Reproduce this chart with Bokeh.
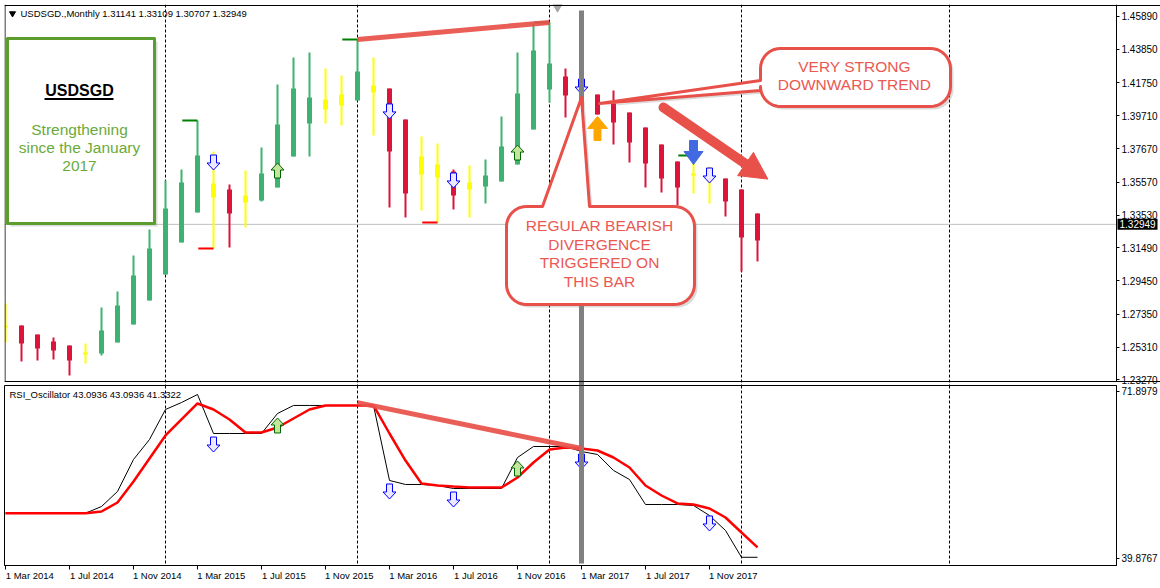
import math
from bokeh.plotting import figure
from bokeh.models import Range1d, FixedTicker, PrintfTickFormatter, Label
from bokeh.layouts import column
from bokeh.embed import file_html
from bokeh.resources import INLINE
from bokeh.core.properties import value

# ---------------- data (monthly bars, Mar 2014 .. Feb 2018) ----------------
kinds = ["N","D","D","D","D","N","U","U","U","U","U","U","U","N","D","N","U","U","U","U",
         "N","N","U","N","D","D","N","N","D","N","U","U","U","U","U","D","D","D","D","D",
         "D","D","D","N","N","D","D","D"]
opens = [1.2665,1.2665,1.2609,1.2566,1.2541,1.2497,1.2491,1.2559,1.2671,1.2821,1.2983,1.3182,
         1.3369,1.3549,1.3512,1.3475,1.3443,1.3524,1.3717,1.3923,1.4072,1.4103,1.4066,1.4159,
         1.4141,1.3948,1.3717,1.3668,1.3624,1.3556,1.3531,1.3562,1.3668,1.3885,1.4134,1.4215,
         1.4159,1.4103,1.4047,1.3991,1.3898,1.3792,1.3686,1.3612,1.3593,1.3580,1.3512,1.3363]
highs = [1.2802,1.2665,1.2609,1.2590,1.2541,1.2553,1.2777,1.2877,1.3101,1.3263,1.3568,1.3636,
         1.3941,1.3749,1.3543,1.3630,1.3773,1.4166,1.4334,1.4365,1.4265,1.4222,1.4446,1.4334,
         1.4141,1.3948,1.3842,1.3798,1.3636,1.3661,1.3699,1.3966,1.4365,1.4545,1.4552,1.4265,
         1.4190,1.4103,1.4128,1.3991,1.3898,1.3792,1.3686,1.3724,1.3655,1.3580,1.3512,1.3363]
lows = [1.2559,1.2441,1.2447,1.2454,1.2354,1.2429,1.2478,1.2559,1.2671,1.2821,1.2983,1.3182,
        1.3369,1.3145,1.3151,1.3275,1.3437,1.3524,1.3717,1.3717,1.3923,1.3910,1.4066,1.3848,
        1.3400,1.3338,1.3381,1.3307,1.3388,1.3338,1.3425,1.3562,1.3668,1.3885,1.4054,1.3960,
        1.4035,1.3979,1.3792,1.3680,1.3524,1.3493,1.3413,1.3487,1.3425,1.3344,1.3001,1.3064]
closes = [1.2653,1.2553,1.2522,1.2509,1.2447,1.2484,1.2634,1.2790,1.2976,1.3145,1.3394,1.3556,
          1.3724,1.3462,1.3363,1.3431,1.3612,1.3917,1.4141,1.4085,1.4010,1.4035,1.4247,1.4116,
          1.3749,1.3487,1.3605,1.3587,1.3475,1.3512,1.3599,1.3780,1.4110,1.4377,1.4296,1.4097,
          1.4085,1.3979,1.3929,1.3805,1.3674,1.3580,1.3524,1.3599,1.3568,1.3437,1.3213,1.3194]

rsi_fast = [49.13,49.13,49.13,49.13,49.13,49.13,50.31,52.97,58.63,62.17,67.48,68.71,70.13,
            63.23,63.23,63.23,63.23,66.77,68.19,68.19,68.19,68.19,68.19,68.19,54.92,54.21,
            54.21,54.03,53.50,53.50,53.50,53.50,58.98,60.93,60.93,60.93,60.04,59.52,56.69,
            55.09,50.67,50.67,50.67,50.49,48.72,46.07,41.33,41.33]
rsi_slow = [49.13,49.13,49.13,49.13,49.13,49.13,49.43,51.02,54.74,58.81,62.88,65.71,68.54,
            67.48,65.71,63.41,63.41,64.29,65.88,67.48,68.19,68.19,68.19,68.19,63.23,58.45,
            54.39,54.03,53.85,53.68,53.68,53.68,55.45,58.10,60.40,60.75,60.57,60.22,58.98,
            57.22,54.03,52.26,50.85,50.67,49.96,48.37,45.72,43.09]

sell_months = [13, 24, 28, 36, 44]
sell_price = [1.3680, 1.3998, 1.3568, 1.4153, 1.3599]
sell_rsi = [61.28, 52.97, 51.55, 58.27, 47.31]
buy_months = [17, 32]
buy_price = [1.3630, 1.3742]
buy_rsi = [64.65, 57.04]
high_marker_months = [12, 22, 34, 43]
low_marker_months = [13, 27]
separator_months = [10, 22, 34, 46, 59]
signal_bar_month = 36
orange_up = (37, 1.3892)
blue_down = (43, 1.3742)
current_price = 1.32949

price_ticks = [1.23270, 1.25310, 1.27350, 1.29450, 1.31490, 1.33530, 1.35570, 1.37670,
               1.39710, 1.41750, 1.43850, 1.45890]
x_tick_labels = ["1 Mar 2014", "1 Jul 2014", "1 Nov 2014", "1 Mar 2015", "1 Jul 2015",
                 "1 Nov 2015", "1 Mar 2016", "1 Jul 2016", "1 Nov 2016", "1 Mar 2017",
                 "1 Jul 2017", "1 Nov 2017"]
rsi_min, rsi_max = 39.8767, 71.8979
rsi_tick_labels = ["71.8979", "39.8767"]

# ---------------- layout constants (reference pixel grid) ----------------
MONTH_PX = 16.0
FRAME_L, FRAME_R, PAGE_R = 4, 1116, 1160
TOP_T, TOP_B = 4, 381
RSI_T, RSI_B = 385, 565
RSI_H = RSI_B - RSI_T
PRICE_PER_PX = 0.0006226
RSI_PER_PX = (rsi_max - rsi_min) / 181.0
FONT = "Liberation Sans"
RED = "#e8504a"

def mx(px):   # reference pixel x -> month index
    return (px - 5) / MONTH_PX

def pp(py):   # reference pixel y -> price
    return 1.46886 - py * PRICE_PER_PX

def rp(py):   # reference pixel y -> rsi value
    return rsi_max - (py - 384) * RSI_PER_PX

KIND_COLOR = {"U": "#3cb371", "D": "#dc143c", "N": "#ffff00"}

def arrow(cx, cy, up, yper, w_head, w_shaft, h_tot, h_head):
    ht = h_tot / 2.0
    pts = [(-w_shaft/2, -ht), (w_shaft/2, -ht), (w_shaft/2, ht-h_head), (w_head/2, ht-h_head),
           (0, ht), (-w_head/2, ht-h_head), (-w_shaft/2, ht-h_head)]
    s = -1 if up else 1
    xs = [cx + dx / MONTH_PX for dx, dy in pts]
    ys = [cy - s * dy * yper for dx, dy in pts]
    return xs, ys

def rounded(l, t, r, b, rad, pointer=None, side=None, n=10):
    pts = []
    def arc(cx, cy, a0, a1):
        for k in range(n + 1):
            a = math.radians(a0 + (a1 - a0) * k / n)
            pts.append((cx + rad * math.cos(a), cy + rad * math.sin(a)))
    arc(l + rad, t + rad, 180, 270)
    if side == "top":
        pts.extend(pointer)
    arc(r - rad, t + rad, 270, 360)
    arc(r - rad, b - rad, 0, 90)
    arc(l + rad, b - rad, 90, 180)
    if side == "left":
        pts.extend(pointer)
    return [mx(p[0]) for p in pts], [pp(p[1]) for p in pts]

def style_axis(ax, size):
    ax.major_label_text_font = FONT
    ax.major_label_text_font_size = size
    ax.major_label_text_color = "black"
    ax.major_tick_out = 3
    ax.major_tick_in = 0
    ax.minor_tick_out = 0
    ax.minor_tick_in = 0
    ax.major_label_standoff = 2
    ax.axis_line_color = "black"

# ---------------- price panel (frame reaches the page edge; scale drawn at x=1116) ----------------
top = figure(frame_width=PAGE_R - FRAME_L, frame_height=RSI_T - TOP_T,
             x_range=Range1d(mx(FRAME_L), mx(PAGE_R)),
             y_range=Range1d(pp(RSI_T), pp(TOP_T)), output_backend="svg", toolbar_location=None,
             x_axis_location=None, y_axis_location="right", min_border_left=FRAME_L,
             min_border_top=TOP_T, min_border_bottom=0, min_border_right=0,
             outline_line_color=None, background_fill_color="white",
             border_fill_color="white")
top.xgrid.visible = False
top.ygrid.visible = False
XR = mx(FRAME_R)

top.vspan(x=separator_months, line_color="black", line_width=1, line_dash="3 2")
top.segment(x0=[mx(FRAME_L)], x1=[XR], y0=[current_price], y1=[current_price],
            line_color="#c0c0c0", line_width=1)

months = list(range(len(opens)))
colors = [KIND_COLOR[k] for k in kinds]
btop = [max(o, c) for o, c in zip(opens, closes)]
bbot = [min(o, c) for o, c in zip(opens, closes)]
top.segment(x0=months, y0=lows, x1=months, y1=highs, line_color=colors, line_width=2)
top.vbar(x=months, top=btop, bottom=bbot, width=5 / MONTH_PX, fill_color=colors, line_color=None)

top.segment(x0=[m - 0.95 for m in high_marker_months], x1=high_marker_months,
            y0=[highs[m] for m in high_marker_months], y1=[highs[m] for m in high_marker_months],
            line_color="#008000", line_width=2)
top.segment(x0=[m - 0.95 for m in low_marker_months], x1=low_marker_months,
            y0=[lows[m] for m in low_marker_months], y1=[lows[m] for m in low_marker_months],
            line_color="#ff0000", line_width=2)

def hollow_arrows(fig, ms, ys, up, yper, line, fill):
    xx, yy = [], []
    for m, y in zip(ms, ys):
        a, b = arrow(m, y, up, yper, 13, 6, 15, 7)
        xx.append(a); yy.append(b)
    fig.patches(xs=xx, ys=yy, fill_color=fill, line_color=line, line_width=1)

hollow_arrows(top, sell_months, sell_price, False, PRICE_PER_PX, "#0000ff", "#ece8ff")
hollow_arrows(top, buy_months, buy_price, True, PRICE_PER_PX, "#006400", "#c4e69a")

top.segment(x0=[signal_bar_month], x1=[signal_bar_month], y0=[pp(10)], y1=[pp(RSI_T)],
            line_color="#808080", line_width=5)

top.segment(x0=[22], y0=[highs[22]], x1=[34], y1=[highs[34]], line_color=RED,
            line_width=5, line_alpha=0.92)

# solid signal arrows
xa, ya = arrow(orange_up[0], orange_up[1], True, PRICE_PER_PX, 20, 7, 24, 12)
top.patch(xa, ya, fill_color="#ffa500", line_color="#ffa500")
xa, ya = arrow(blue_down[0], blue_down[1], False, PRICE_PER_PX, 19, 8, 24, 13)
top.patch(xa, ya, fill_color="#4169e1", line_color="#4169e1")

# green info box
gx, gy = rounded(7, 38, 154, 223, 0.01)
top.patch([x + 3 / MONTH_PX for x in gx], [y - 3 * PRICE_PER_PX for y in gy],
          fill_color="#888888", fill_alpha=0.3, line_color=None)
top.patch(gx, gy, fill_color="white", line_color="#5c9e2e", line_width=3, line_join="miter")
top.add_layout(Label(x=mx(79), y=pp(90), text="USDSGD", text_font=FONT, text_font_size="16px",
                     text_font_style="bold", text_color="black", text_align="center",
                     text_baseline="middle"))
top.segment(x0=[mx(44)], x1=[mx(113)], y0=[pp(98.5)], y1=[pp(98.5)], line_color="black", line_width=2)
for txt, yy in [("Strengthening", 129), ("since the January", 147), ("2017", 165)]:
    top.add_layout(Label(x=mx(79), y=pp(yy), text=txt, text_font=FONT, text_font_size="15.5px",
                         text_color="#6aaa3c", text_align="center", text_baseline="middle"))

# callout 1
cx1, cy1 = rounded(506, 206, 694, 304, 20, [(542, 206), (581, 97), (589, 206)], "top")
top.patch([x + 3 / MONTH_PX for x in cx1], [y - 3 * PRICE_PER_PX for y in cy1],
          fill_color="#888888", fill_alpha=0.3, line_color=None)
top.patch(cx1, cy1, fill_color="white", line_color=RED, line_width=3, line_join="round")
for txt, yy in [("REGULAR BEARISH", 225), ("DIVERGENCE", 243.5), ("TRIGGERED ON", 262),
                ("THIS BAR", 280.5)]:
    top.add_layout(Label(x=mx(599), y=pp(yy), text=txt, text_font=FONT, text_font_size="15.5px",
                         text_color="#ea5852", text_align="center", text_baseline="middle"))

# callout 2
cx2, cy2 = rounded(760, 48, 950, 106, 20, [(760, 90), (599, 103), (760, 80)], "left")
top.patch([x + 3 / MONTH_PX for x in cx2], [y - 3 * PRICE_PER_PX for y in cy2],
          fill_color="#888888", fill_alpha=0.3, line_color=None)
top.patch(cx2, cy2, fill_color="white", line_color=RED, line_width=3, line_join="round")
for txt, yy in [("VERY STRONG", 66), ("DOWNWARD TREND", 84)]:
    top.add_layout(Label(x=mx(854), y=pp(yy), text=txt, text_font=FONT, text_font_size="15.5px",
                         text_color="#ea5852", text_align="center", text_baseline="middle"))

# big trend arrow
top.segment(x0=[mx(663)], y0=[pp(107)], x1=[mx(746)], y1=[pp(164)], line_color=RED,
            line_width=10, line_cap="round")
top.patch([mx(767.4), mx(752.9), mx(737.1)], [pp(178.6), pp(151.9), pp(175.1)],
          fill_color=RED, line_color=RED, line_width=1)

# header + chart-shift marker
top.scatter(x=[mx(12)], y=[pp(13)], marker="inverted_triangle", size=6, color="black")
top.scatter(x=[mx(557)], y=[pp(6.5)], marker="inverted_triangle", size=9, color="#a8a8a8")
top.add_layout(Label(x=mx(20), y=pp(13), text="USDSGD.,Monthly  1.31141 1.33109 1.30707 1.32949",
                     text_font=FONT, text_font_size="9.5px", text_color="black",
                     text_align="left", text_baseline="middle"))

# panel borders (top and bottom lines run the full width, as in the terminal window)
top.hspan(y=[pp(TOP_T + 0.5), pp(TOP_B - 0.5)], line_color="black", line_width=1)
top.segment(x0=[mx(FRAME_L + 0.5)], x1=[mx(FRAME_L + 0.5)], y0=[pp(TOP_T)], y1=[pp(TOP_B)],
            line_color="black", line_width=1)

# price box for the current price, inside the extended frame
top.rect(x=[mx(1137)], y=[current_price], width=40 / MONTH_PX, height=11 * PRICE_PER_PX,
         fill_color="black", line_color=None)
top.text(x=[mx(1119)], y=[current_price], text=["1.32949"], text_font=value(FONT),
         text_font_size="10px", text_color="white", text_align="left", text_baseline="middle")

# price scale drawn at the right edge of the chart area
top.yaxis.ticker = FixedTicker(ticks=price_ticks)
top.yaxis.formatter = PrintfTickFormatter(format="%.5f")
top.yaxis.fixed_location = XR
style_axis(top.yaxis, "10px")
top.yaxis.axis_line_color = None
top.segment(x0=[XR], x1=[XR], y0=[pp(TOP_T)], y1=[pp(TOP_B)], line_color="black", line_width=1)

# ---------------- RSI panel ----------------
bot = figure(frame_width=FRAME_R - FRAME_L, frame_height=RSI_H,
             x_range=Range1d(mx(FRAME_L), mx(FRAME_R)),
             y_range=Range1d(rp(RSI_B), rp(RSI_T)), output_backend="svg", toolbar_location=None,
             y_axis_location="right", min_border_left=FRAME_L, min_border_top=0,
             min_border_bottom=0, min_border_right=0, outline_line_color="black",
             background_fill_color="white", border_fill_color="white")
bot.xgrid.visible = False
bot.ygrid.visible = False

bot.vspan(x=separator_months, line_color="black", line_width=1, line_dash="3 2")
bot.line(months, rsi_fast, line_color="black", line_width=1)
bot.line(months, rsi_slow, line_color="#ff0000", line_width=2.5)
hollow_arrows(bot, sell_months, sell_rsi, False, RSI_PER_PX, "#0000ff", "#ece8ff")
hollow_arrows(bot, buy_months, buy_rsi, True, RSI_PER_PX, "#006400", "#c4e69a")
bot.segment(x0=[signal_bar_month], x1=[signal_bar_month], y0=[rp(RSI_T)], y1=[rp(563)],
            line_color="#808080", line_width=5)
bot.segment(x0=[22], y0=[rsi_slow[22] + 0.5], x1=[signal_bar_month], y1=[rsi_slow[signal_bar_month]],
            line_color=RED, line_width=5, line_alpha=0.92)
bot.add_layout(Label(x=mx(9), y=rp(394), text="RSI_Oscillator 43.0936 43.0936 41.3322",
                     text_font=FONT, text_font_size="9.5px", text_color="black",
                     text_align="left", text_baseline="middle"))

rsi_ticks = [round(rp(391), 2), round(rp(558), 2)]
bot.yaxis.ticker = FixedTicker(ticks=rsi_ticks)
bot.yaxis.major_label_overrides = {t: l for t, l in zip(rsi_ticks, rsi_tick_labels)}
style_axis(bot.yaxis, "10px")

# x labels: MT4 writes them starting at the tick, so pad on the left with no-break spaces
CHAR_EM = {"0": .556, "1": .556, "2": .556, "3": .556, "4": .556, "5": .556, "6": .556,
           "7": .556, "8": .556, "9": .556, " ": .278, "M": .833, "a": .556, "r": .333,
           "J": .5, "u": .556, "l": .222, "N": .722, "o": .556, "v": .5}
def left_pad(s, first=False):
    if first:
        return "\u00a0\u00a0" + s
    w = sum(CHAR_EM.get(c, .556) for c in s)
    return "\u00a0" * int(round(w / .278)) + s

tick_months = [4 * k for k in range(len(x_tick_labels))]
bot.xaxis.ticker = FixedTicker(ticks=tick_months)
bot.xaxis.major_label_overrides = {m: left_pad(l, k == 0)
                                   for k, (m, l) in enumerate(zip(tick_months, x_tick_labels))}
style_axis(bot.xaxis, "9.5px")
bot.xaxis.major_tick_out = 4
bot.xaxis.major_label_standoff = 0

layout = column(top, bot, spacing=0)
open("out.html", "w").write(file_html(layout, INLINE))
